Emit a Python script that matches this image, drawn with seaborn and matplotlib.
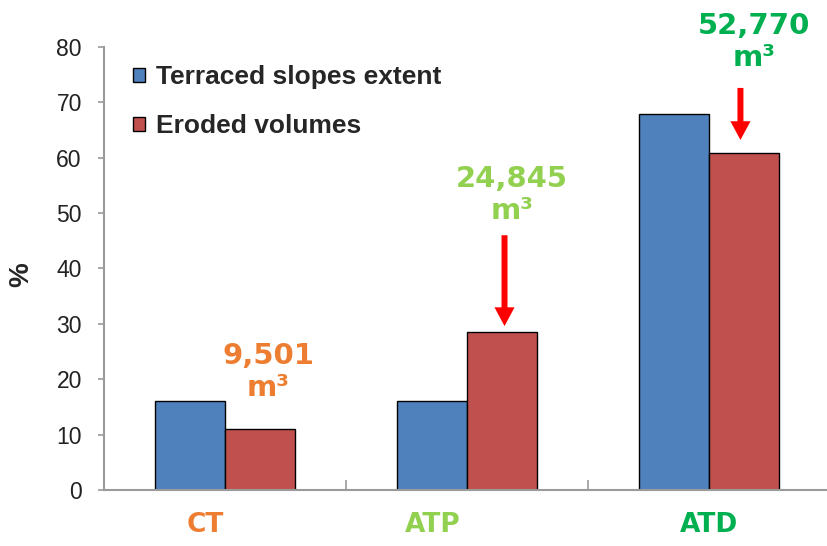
import matplotlib
matplotlib.use("Agg")
import matplotlib.pyplot as plt
from matplotlib.ticker import FixedLocator
import seaborn as sns
import pandas as pd

# --- data -------------------------------------------------------------
categories = ["CT", "ATP", "ATD"]
series = ["Terraced slopes extent", "Eroded volumes"]
terraced_extent = [16.0, 16.0, 67.9]
eroded_volumes = [11.0, 28.6, 60.8]
volume_labels = ["9,501\nm³", "24,845\nm³", "52,770\nm³"]
category_colors = ["#ED7D31", "#92D050", "#00B050"]
yticks = [0, 10, 20, 30, 40, 50, 60, 70, 80]

df = pd.DataFrame({
    "site": categories * 2,
    "series": [series[0]] * 3 + [series[1]] * 3,
    "value": terraced_extent + eroded_volumes,
})

sns.set_style("white")
plt.rcParams["font.family"] = ["Liberation Sans", "DejaVu Sans"]

fig = plt.figure(figsize=(8.27, 5.46), dpi=100)
ax = fig.add_axes([0.1258, 0.1026, 0.8778, 0.8114])

sns.barplot(
    data=df, x="site", y="value", hue="series", order=categories,
    hue_order=series, palette=["#4F81BD", "#C0504D"], saturation=1,
    width=0.575, edgecolor="black", linewidth=1.0, ax=ax,
)

ax.set_xlim(-0.5, 2.5)
ax.set_ylim(0, 80)
ax.set_yticks(yticks)
ax.set_yticklabels([str(t) for t in yticks], fontsize=16.5, color="#222222")
ax.tick_params(axis="y", direction="out", length=4.5, width=1.2,
               color="#999999", left=True, pad=11.5)

# category separators on the x axis
ax.set_xticks([0, 1, 2])
ax.set_xticklabels([])
ax.tick_params(axis="x", length=0)
ax.xaxis.set_minor_locator(FixedLocator([0.5, 1.5]))
ax.tick_params(axis="x", which="minor", direction="in", length=7,
               width=1.2, color="#999999", bottom=True)

for side in ("top", "right"):
    ax.spines[side].set_visible(False)
for side in ("left", "bottom"):
    ax.spines[side].set_color("#9a9a9a")
    ax.spines[side].set_linewidth(1.5)

ax.set_xlabel("")
ax.set_ylabel("%", fontsize=20, fontweight="bold")
ax.yaxis.set_label_coords(-0.096, 0.485)

# coloured site names below the axis
name_offsets = [-0.08, -0.14, 0.0]
for i, (name, col) in enumerate(zip(categories, category_colors)):
    ax.text(i + name_offsets[i], -0.08, name, transform=ax.get_xaxis_transform(),
            ha="center", va="center", fontsize=19, fontweight="bold",
            color=col, family="DejaVu Sans")

# eroded volume annotations
label_pos = [(0.178, 21.3), (1.186, 53.3), (2.186, 80.9)]
for (x, y), txt, col in zip(label_pos, volume_labels, category_colors):
    ax.text(x, y, txt, ha="center", va="center", fontsize=21,
            fontweight="bold", color=col, family="DejaVu Sans",
            linespacing=1.2, clip_on=False)

# arrows pointing at the eroded-volume bars of ATP and ATD
arrows = [(1.155, 46.0, 29.6), (2.13, 72.6, 63.2)]
for x, y_from, y_to in arrows:
    ax.annotate("", xy=(x, y_to), xytext=(x, y_from),
                arrowprops=dict(facecolor="#FF0000", edgecolor="none",
                                width=4.3, headwidth=14.5, headlength=13.5,
                                shrink=0))

handles, labels = ax.get_legend_handles_labels()
ax.legend(handles, labels, loc="upper left", bbox_to_anchor=(0.04, 0.959),
          frameon=False, borderaxespad=0, borderpad=0,
          handlelength=0.46, handleheight=0.46, handletextpad=0.4,
          labelspacing=0.96, prop={"family": "Liberation Sans",
                                   "weight": "bold", "size": 19})

fig.savefig("out.png", dpi=100)
